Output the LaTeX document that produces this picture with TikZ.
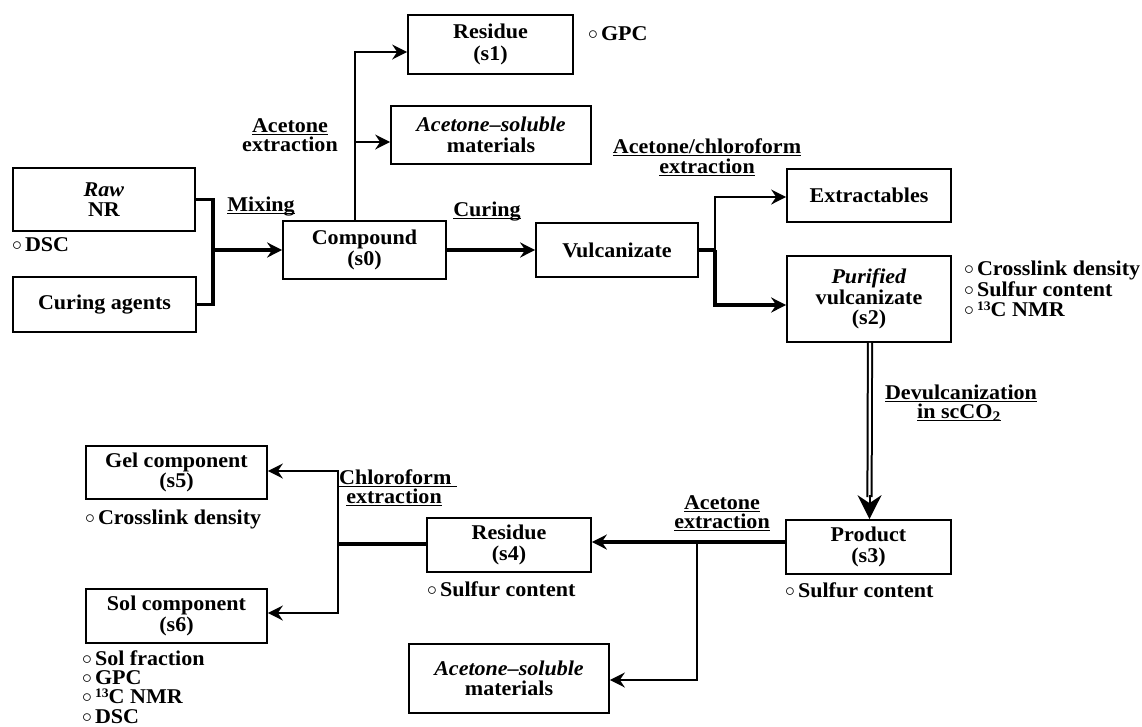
\documentclass[tikz,border=0pt]{standalone}
\usepackage{fontspec}
\setmainfont{Liberation Serif}[FakeStretch=1.05]
\usetikzlibrary{arrows.meta}
\newcommand\ulx[1]{\setbox0=\hbox{#1}\rlap{\rule[-3pt]{\wd0}{1.4pt}}\box0}
\newcommand\bul{\raisebox{0.6pt}{\scalebox{0.95}{$\circ$}}\kern3pt}
\newcommand\supx[1]{\raisebox{6pt}{\fontsize{13}{13}\selectfont #1}}
\begin{document}
\begin{tikzpicture}[x=1pt,y=-1pt,
  font=\fontsize{21}{20.5}\selectfont\bfseries,
  box/.style={draw, line width=1.7pt, inner sep=0pt, align=center},
  thin/.style={line width=2pt},
  thick/.style={line width=3.2pt},
  arr/.style={-{Stealth[length=15pt,width=15pt,inset=5pt]}},
  lab/.style={anchor=base, inner sep=0pt},
  itm/.style={anchor=base west, inner sep=0pt}]
\useasboundingbox[fill=white] (0,0) rectangle (1142,726);
% boxes
\node[box, minimum width=182pt, minimum height=63pt] (raw) at (104,199.5) {\textit{Raw}\\NR};
\node[box, minimum width=183pt, minimum height=55pt] (cur) at (104.5,304.5) {Curing agents};
\node[box, minimum width=163pt, minimum height=58pt] (comp) at (364.5,250) {Compound\\(s0)};
\node[box, minimum width=165pt, minimum height=59pt] (res1) at (490.5,44.5) {Residue\\[1.5pt](s1)};
\node[box, minimum width=200pt, minimum height=58pt] (asm1) at (491,135) {\textit{Acetone–soluble}\\materials};
\node[box, minimum width=162pt, minimum height=54pt] (vulc) at (617,250) {Vulcanizate};
\node[box, minimum width=164pt, minimum height=53pt] (ext) at (869,195.5) {Extractables};
\node[box, minimum width=164pt, minimum height=86pt] (pur) at (869,299) {\textit{Purified}\\vulcanizate\\(s2)};
\node[box, minimum width=165pt, minimum height=54pt] (prod) at (868.5,547) {Product\\(s3)};
\node[box, minimum width=164pt, minimum height=54pt] (res4) at (509,545) {Residue\\(s4)};
\node[box, minimum width=200pt, minimum height=69pt] (asm2) at (509,678.5) {\textit{Acetone–soluble}\\materials};
\node[box, minimum width=181pt, minimum height=53pt] (gel) at (176.5,472.5) {Gel component\\(s5)};
\node[box, minimum width=181pt, minimum height=54pt] (sol) at (176.5,616) {Sol component\\(s6)};
% junctions
\coordinate (jm) at (213,250);
\coordinate (jt) at (355,221);
\coordinate (jv) at (715,250);
\coordinate (jp) at (697,542);
\coordinate (jc) at (338,544);
% connectors
\draw[thick] (raw.east) -| (jm) |- (cur.east);
\draw[thick, arr] (jm) -- (comp.west);
\draw[thin, arr] (jt) |- ([yshift=-7.5pt]res1.west);
\draw[thin, arr] (jt |- asm1.west) ++(0,7) -- ([yshift=-7pt]asm1.west);
\draw[thick, arr] (comp.east) -- (vulc.west);
\draw[thick] (vulc.east) -- (jv);
\draw[thin, arr] (jv) |- ([yshift=-1.5pt]ext.west);
\draw[thick, arr] (jv) |- ([yshift=-6pt]pur.west);
\draw[line width=2pt, double, double distance=2.2pt] ([xshift=1pt]pur.south) -- ([xshift=1pt,yshift=22pt]prod.north);
\draw[line width=2pt, -{Stealth[length=24pt,width=24pt,inset=8pt]}] ([xshift=1pt,yshift=24pt]prod.north) -- ([xshift=1pt]prod.north);
\draw[thick, arr] ([yshift=5pt]prod.west) -- ([yshift=3pt]res4.east);
\draw[thin, arr] (jp) |- ([yshift=-1.5pt]asm2.east);
\draw[thick] ([yshift=1pt]res4.west) -- (jc);
\draw[thin, arr] (jc) |- ([yshift=1.5pt]gel.east);
\draw[thin, arr] (jc) |- ([yshift=3pt]sol.east);
% labels
\node[lab] (lmix) at (261,211) {\ulx{Mixing}};
\node[lab] (lcur) at (487,216) {\ulx{Curing}};
\node[lab] (la1) at (290,132) {\ulx{Acetone}};
\node[lab] (la2) at (290,151) {extraction};
\node[lab] (lac1) at (707,153) {\ulx{Acetone/chloroform}};
\node[lab] (lac2) at (707,173) {\ulx{extraction}};
\node[lab] (ld1) at (961,399) {\ulx{Devulcanization}};
\node[lab] (ld2) at (959,418) {\ulx{in scCO\textsubscript{2}}};
\node[lab] (lb1) at (722,509) {\ulx{Acetone}};
\node[lab] (lb2) at (722,528) {\ulx{extraction}};
\node[lab] (lc1) at (398,484) {\ulx{Chloroform\ }};
\node[lab] (lc2) at (394,503) {\ulx{extraction}};
% analysis items
\node[itm] (i1) at (12,251) {\bul DSC};
\node[itm] (i2) at (588,40) {\bul GPC};
\node[itm] (i3) at (964,275) {\bul Crosslink density};
\node[itm] (i4) at (964,296) {\bul Sulfur content};
\node[itm] (i5) at (964,316) {\bul \supx{13}C NMR};
\node[itm] (i6) at (785,597) {\bul Sulfur content};
\node[itm] (i7) at (427,596) {\bul Sulfur content};
\node[itm] (i8) at (85,524) {\bul Crosslink density};
\node[itm] (i9) at (82,665) {\bul Sol fraction};
\node[itm] (i10) at (82,684) {\bul GPC};
\node[itm] (i11) at (82,703) {\bul \supx{13}C NMR};
\node[itm] (i12) at (82,723) {\bul DSC};
\end{tikzpicture}
\end{document}
